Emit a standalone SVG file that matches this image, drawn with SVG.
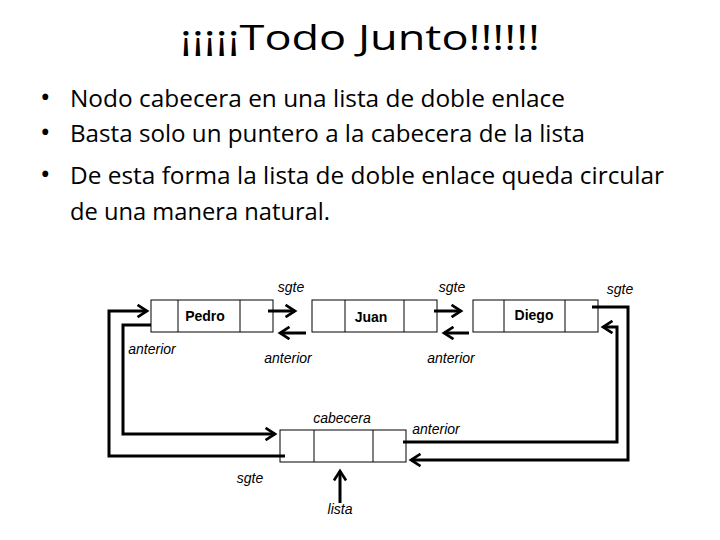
<svg xmlns="http://www.w3.org/2000/svg" width="720" height="540" viewBox="0 0 720 540">
<style>
.t{font-family:"Open Sans","Liberation Sans",sans-serif;fill:#000}
.b{font-family:"Open Sans","Liberation Sans",sans-serif;font-size:23px;fill:#000}
.box{fill:#fff;stroke:#000;stroke-width:1}
.n{font-family:"Liberation Sans",Arial,sans-serif;font-weight:bold;font-size:14px;text-anchor:middle}
.l{font-family:"Liberation Sans",Arial,sans-serif;font-style:italic;font-size:14px;text-anchor:middle}
.c{fill:none;stroke:#000;stroke-width:3}
</style>
<defs>
<marker id="ah" viewBox="0 0 10 10" refX="8" refY="5" markerWidth="4.5" markerHeight="4.5" orient="auto" markerUnits="strokeWidth">
<polyline points="1,0.5 8,5 1,9.5" fill="none" stroke="#000" stroke-width="2"/>
</marker>
</defs>
<rect width="720" height="540" fill="#fff"/>
<text class="t" x="180" y="50" font-size="34" textLength="360" lengthAdjust="spacingAndGlyphs">¡¡¡¡¡Todo Junto!!!!!!</text>
<g class="b">
<text x="40" y="107" font-size="28">•</text><text x="70" y="107" textLength="495" lengthAdjust="spacingAndGlyphs">Nodo cabecera en una lista de doble enlace</text>
<text x="40" y="142" font-size="28">•</text><text x="70" y="142" textLength="515" lengthAdjust="spacingAndGlyphs">Basta solo un puntero a la cabecera de la lista</text>
<text x="40" y="184" font-size="28">•</text><text x="70" y="184" textLength="594" lengthAdjust="spacingAndGlyphs">De esta forma la lista de doble enlace queda circular</text>
<text x="70" y="220" textLength="260" lengthAdjust="spacingAndGlyphs">de una manera natural.</text>
</g>
<g id="pedro"><rect class="box" x="151" y="300" width="122" height="32"/><line x1="178" y1="300" x2="178" y2="332" stroke="#000"/><line x1="240" y1="300" x2="240" y2="332" stroke="#000"/><text class="n" x="205" y="321">Pedro</text></g>
<g id="juan"><rect class="box" x="312" y="300" width="125" height="32"/><line x1="345" y1="300" x2="345" y2="332" stroke="#000"/><line x1="404" y1="300" x2="404" y2="332" stroke="#000"/><text class="n" x="371" y="322">Juan</text></g>
<g id="diego"><rect class="box" x="473" y="300" width="125" height="32"/><line x1="504" y1="300" x2="504" y2="332" stroke="#000"/><line x1="565" y1="300" x2="565" y2="332" stroke="#000"/><text class="n" x="534" y="320">Diego</text></g>
<g id="cabecera"><rect class="box" x="280" y="430" width="126" height="32"/><line x1="314" y1="430" x2="314" y2="462" stroke="#000"/><line x1="373" y1="430" x2="373" y2="462" stroke="#000"/></g>
<g id="connectors" class="c">
<path d="M268,311 H295" marker-end="url(#ah)"/>
<path d="M306,333 H280" marker-end="url(#ah)"/>
<path d="M434,311 H461" marker-end="url(#ah)"/>
<path d="M469,333 H444" marker-end="url(#ah)"/>
<path d="M592,307 H628 V460 H411" marker-end="url(#ah)"/>
<path d="M403,442 H617 V327 H603" marker-end="url(#ah)"/>
<path d="M285,456 H109 V311 H147" marker-end="url(#ah)"/>
<path d="M151,325 H123 V434 H275" marker-end="url(#ah)"/>
<path d="M340,503 V471" marker-end="url(#ah)"/>
</g>
<g id="labels">
<text class="l" x="291" y="292">sgte</text>
<text class="l" x="452" y="292">sgte</text>
<text class="l" x="620" y="294">sgte</text>
<text class="l" x="152" y="354">anterior</text>
<text class="l" x="288" y="363">anterior</text>
<text class="l" x="451" y="363">anterior</text>
<text class="l" x="342" y="423">cabecera</text>
<text class="l" x="436" y="434">anterior</text>
<text class="l" x="250" y="483">sgte</text>
<text class="l" x="340" y="514">lista</text>
</g>
</svg>
